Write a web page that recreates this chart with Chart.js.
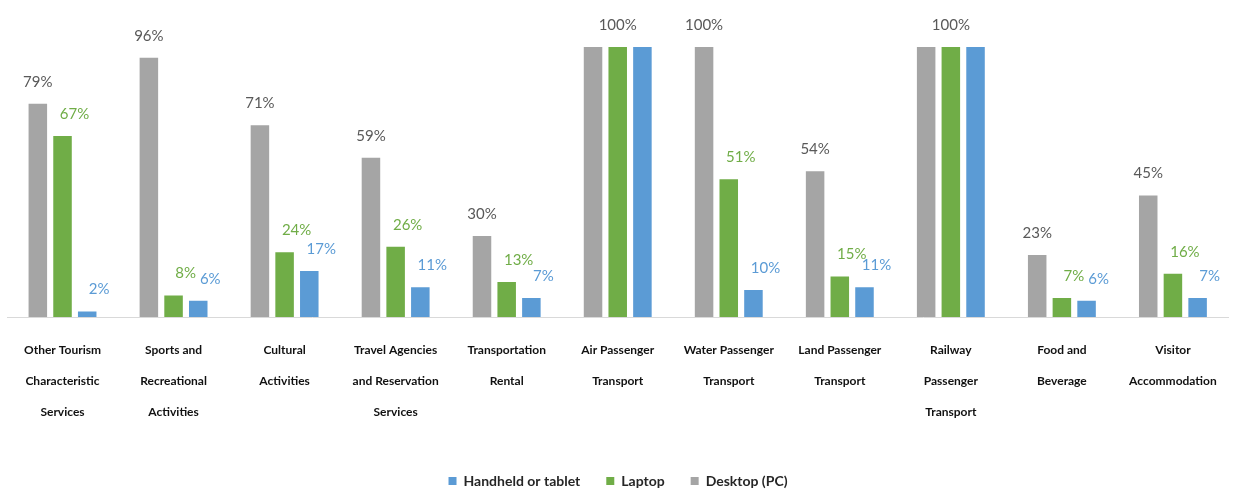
<!DOCTYPE html>
<html>
<head>
<meta charset="utf-8">
<script src="https://cdn.jsdelivr.net/npm/chart.js@4.4.1/dist/chart.umd.min.js"></script>
<style>
  html, body { margin: 0; padding: 0; background: #fff; }
  #wrap { width: 1235px; height: 498px; }
</style>
</head>
<body>
<div id="wrap"><canvas id="deviceChart"></canvas></div>
<script>
const categories = [
    ["Other Tourism", "Characteristic", "Services"],
    ["Sports and", "Recreational", "Activities"],
    ["Cultural", "Activities"],
    ["Travel Agencies", "and Reservation", "Services"],
    ["Transportation", "Rental"],
    ["Air Passenger", "Transport"],
    ["Water Passenger", "Transport"],
    ["Land Passenger", "Transport"],
    ["Railway", "Passenger", "Transport"],
    ["Food and", "Beverage"],
    ["Visitor", "Accommodation"],
];

const desktop  = [79, 96, 71, 59, 30, 100, 100, 54, 100, 23, 45];
const laptop   = [67,  8, 24, 26, 13, 100,  51, 15, 100,  7, 16];
const handheld = [ 2,  6, 17, 11,  7, 100,  10, 11, 100,  6,  7];

const GRAY = "#a5a5a5";
const GREEN = "#70ad47";
const BLUE = "#5b9bd5";

// value labels above the bars; when all three bars in a group are equal
// only one label is drawn, over the middle of the group
const barLabels = {
    id: "barLabels",
    afterDatasetsDraw(chart) {
        const ctx = chart.ctx;
        const labelColors = ["#595959", GREEN, BLUE];
        const shift = [0, 12, 12];
        ctx.save();
        ctx.font = "15px Lato";
        ctx.textAlign = "center";
        ctx.textBaseline = "middle";
        chart.data.datasets.forEach((ds, i) => {
            const meta = chart.getDatasetMeta(i);
            meta.data.forEach((bar, j) => {
                const same = desktop[j] === laptop[j] && laptop[j] === handheld[j];
                let x = bar.x + shift[i];
                if (same) {
                    if (i !== 0) return;
                    x = chart.getDatasetMeta(1).data[j].x;
                }
                ctx.fillStyle = labelColors[i];
                ctx.fillText(ds.data[j] + "%", x, bar.y - 22);
            });
        });
        ctx.restore();
    },
};

new Chart(document.getElementById("deviceChart"), {
    type: "bar",
    data: {
        labels: categories,
        datasets: [
            { label: "Desktop (PC)", data: desktop, backgroundColor: GRAY },
            { label: "Laptop", data: laptop, backgroundColor: GREEN },
            { label: "Handheld or tablet", data: handheld, backgroundColor: BLUE },
        ],
    },
    options: {
        responsive: true,
        maintainAspectRatio: false,
        animation: false,
        datasets: {
            bar: { categoryPercentage: 0.667, barPercentage: 0.75 },
        },
        layout: {
            padding: { top: 47, left: 7, right: 6, bottom: 0 },
        },
        scales: {
            x: {
                grid: { display: false, drawTicks: false },
                border: { display: true, color: "#d9d9d9", width: 1 },
                ticks: {
                    color: "#111",
                    padding: 18,
                    maxRotation: 0,
                    autoSkip: false,
                    font: { family: "Lato", size: 12, weight: "bold", lineHeight: 2.58 },
                },
                afterFit: (scale) => { scale.height = 131; },
            },
            y: {
                display: false,
                min: 0,
                max: 100,
            },
        },
        plugins: {
            legend: {
                position: "bottom",
                reverse: true,
                labels: {
                    boxWidth: 8,
                    boxHeight: 8,
                    padding: 26,
                    color: "#262626",
                    font: { family: "Lato", size: 14, weight: "bold" },
                },
            },
            tooltip: { enabled: false },
        },
    },
    plugins: [barLabels],
});
</script>
</body>
</html>
